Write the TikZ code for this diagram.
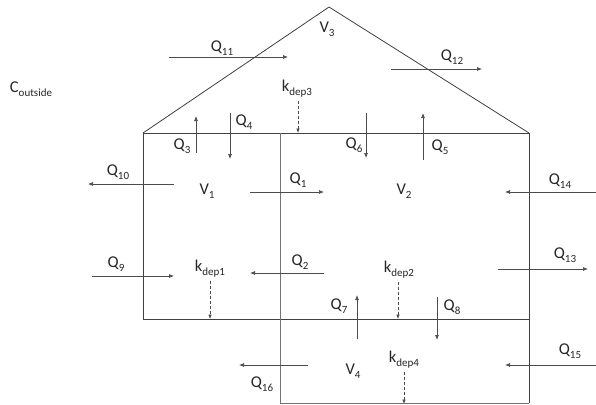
\documentclass[tikz,border=0pt]{standalone}
\usepackage{fontspec}
\setmainfont{Carlito}
\usetikzlibrary{arrows.meta}
\newcommand\sbs[1]{\raisebox{-4pt}{\fontsize{11}{11}\selectfont #1}}
\tikzset{
  wall/.style={draw=black!75, line width=0.8pt},
  inner/.style={draw=black!55, line width=0.8pt},
  flow/.style={draw=black!70, line width=0.7pt, -{Latex[length=5pt,width=4pt]}},
  dep/.style={draw=black!70, line width=0.6pt, dash pattern=on 3pt off 2pt, -{Latex[length=4.5pt,width=3.5pt]}},
  lbl/.style={inner sep=0pt, font=\fontsize{16.5}{18}\selectfont, text=black!85}
}
\begin{document}
\begin{tikzpicture}[x=1pt,y=-1pt]
\useasboundingbox (0,0) rectangle (596,404);
% building outline
\coordinate (peak) at (329,7);
\coordinate (eL) at (143,133);
\coordinate (eR) at (529,133);
\coordinate (bL) at (143,319);
\coordinate (bR) at (529,319);
\coordinate (dT) at (280,133);
\coordinate (dB) at (280,403);
\coordinate (fR) at (529,403);
\draw[wall] (eL) -- (peak) -- (eR);
\draw[wall] (eL) -- (eR);
\draw[wall] (eL) -- (bL) -- (bR);
\draw[wall] (eR) -- (fR);
\draw[inner] (dT) -- (dB) -- (fR);
% labels
\node[lbl] (V3) at (327,29) {V\sbs{3}};
\node[lbl] (V1) at (207,191) {V\sbs{1}};
\node[lbl] (V2) at (404,191) {V\sbs{2}};
\node[lbl] (V4) at (353,371) {V\sbs{4}};
\node[lbl] (Cout) at (31,89) {C\sbs{outside}};
\node[lbl] (lQ11) at (222,48) {Q\sbs{11}};
\node[lbl] (lQ12) at (452,57) {Q\sbs{12}};
\node[lbl] (lQ3) at (182,146) {Q\sbs{3}};
\node[lbl] (lQ4) at (244,122) {Q\sbs{4}};
\node[lbl] (lQ6) at (354,145) {Q\sbs{6}};
\node[lbl] (lQ5) at (440,147) {Q\sbs{5}};
\node[lbl] (lQ10) at (118,172) {Q\sbs{10}};
\node[lbl] (lQ1) at (298,180) {Q\sbs{1}};
\node[lbl] (lQ14) at (560,181) {Q\sbs{14}};
\node[lbl] (lQ9) at (116,264) {Q\sbs{9}};
\node[lbl] (lQ2) at (300,262) {Q\sbs{2}};
\node[lbl] (lQ13) at (565,255) {Q\sbs{13}};
\node[lbl] (lQ7) at (339,306) {Q\sbs{7}};
\node[lbl] (lQ8) at (452,307) {Q\sbs{8}};
\node[lbl] (lQ15) at (570,351) {Q\sbs{15}};
\node[lbl] (lQ16) at (262,384) {Q\sbs{16}};
\node[lbl] (k3) at (297,89) {k\sbs{dep3}};
\node[lbl] (k1) at (210,269) {k\sbs{dep1}};
\node[lbl] (k2) at (399,270) {k\sbs{dep2}};
\node[lbl] (k4) at (404,360) {k\sbs{dep4}};
% flow arrows
\coordinate (q11a) at (169,57);  \coordinate (q11b) at (288,57);
\coordinate (q12a) at (391,69);  \coordinate (q12b) at (482,69);
\coordinate (q3a) at (196,153);  \coordinate (q3b) at (196,116);
\coordinate (q4a) at (230,113);  \coordinate (q4b) at (230,159);
\coordinate (q6a) at (366,113);  \coordinate (q6b) at (366,158);
\coordinate (q5a) at (423,160);  \coordinate (q5b) at (423,113);
\coordinate (q10a) at (174,184); \coordinate (q10b) at (88,184);
\coordinate (q1a) at (250,192);  \coordinate (q1b) at (324,192);
\coordinate (q14a) at (596,192); \coordinate (q14b) at (505,192);
\coordinate (q9a) at (92,276);   \coordinate (q9b) at (174,276);
\coordinate (q2a) at (324,273);  \coordinate (q2b) at (250,273);
\coordinate (q13a) at (498,269); \coordinate (q13b) at (588,269);
\coordinate (q7a) at (357,339);  \coordinate (q7b) at (357,295);
\coordinate (q8a) at (437,297);  \coordinate (q8b) at (437,340);
\coordinate (q15a) at (596,365); \coordinate (q15b) at (505,365);
\coordinate (q16a) at (308,365); \coordinate (q16b) at (239,365);
\foreach \n in {11,12,3,4,6,5,10,1,14,9,2,13,7,8,15,16}
  \draw[flow] (q\n a) -- (q\n b);
% deposition arrows
\coordinate (k3e) at (298,133);
\coordinate (k1e) at (210,319);
\coordinate (k2e) at (398,319);
\coordinate (k4e) at (404,404);
\draw[dep] (k3.south -| k3e) ++(0,3) -- (k3e);
\draw[dep] (k1.south -| k1e) ++(0,3) -- (k1e);
\draw[dep] (k2.south -| k2e) ++(0,3) -- (k2e);
\draw[dep] (k4.south -| k4e) ++(0,3) -- (k4e);
\end{tikzpicture}
\end{document}
